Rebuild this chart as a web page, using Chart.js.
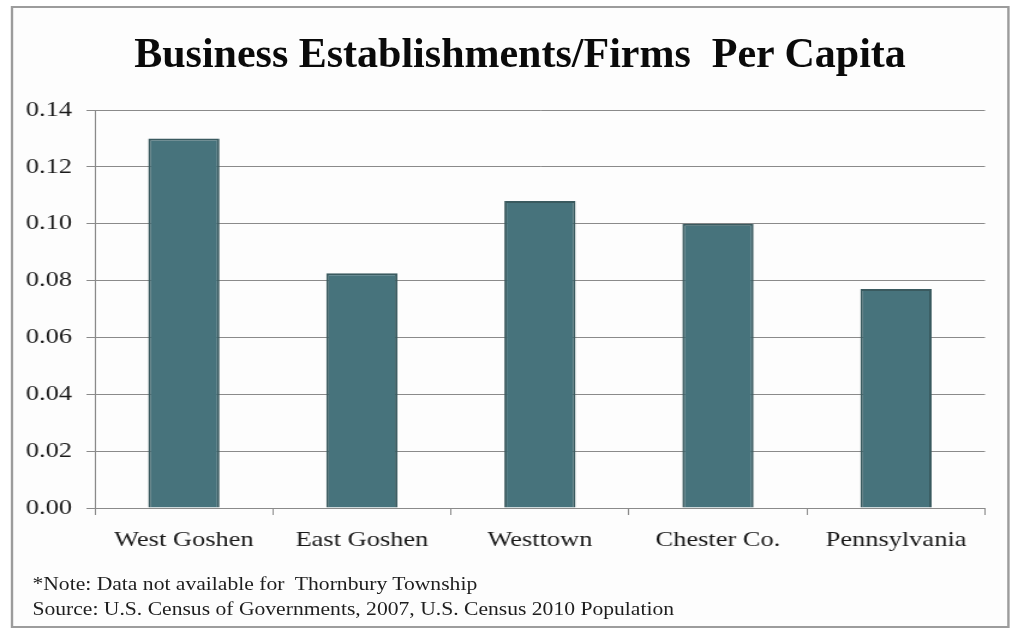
<!DOCTYPE html>
<html>
<head>
<meta charset="utf-8">
<script src="https://cdn.jsdelivr.net/npm/chart.js@4/dist/chart.umd.min.js"></script>
<style>
  html, body { margin: 0; padding: 0; background: #ffffff; }
  body { width: 1018px; height: 628px; position: relative; overflow: hidden; }
  /* the whole slide is drawn on a narrower stage and stretched sideways */
  #stage {
    position: absolute; left: 0; top: 0;
    width: 848px; height: 628px;
    transform: scaleX(1.2005); transform-origin: 0 0;
  }
  #frame {
    position: absolute; left: 9px; top: 6px; width: 828px; height: 618px;
    border: 2px solid #9c9c9c; background: #fdfdfd;
  }
  #chart { position: absolute; left: 0; top: 0; }
  #notes {
    position: absolute; left: 27px; top: 572px;
    font: 18px 'Liberation Serif', 'Times New Roman', serif;
    line-height: 25px; color: #1e1e1e; white-space: nowrap;
  }
  #title {
    position: absolute; left: 0; top: 32px; width: 1040px; text-align: center;
    font: bold 42px 'Liberation Serif', 'Times New Roman', serif;
    line-height: 42px; color: #0a0a0a; white-space: nowrap;
  }
</style>
</head>
<body>
<div id="stage">
  <div id="frame"></div>
  <canvas id="chart" width="848" height="628"></canvas>
  <div id="notes">*Note: Data not available for&nbsp; Thornbury Township<br>Source: U.S. Census of Governments, 2007, U.S. Census 2010 Population</div>
</div>
<div id="title">Business Establishments/Firms&nbsp; Per Capita</div>
<script>
// Firms per capita by area
const places = ['West Goshen', 'East Goshen', 'Westtown', 'Chester Co.', 'Pennsylvania'];
const firmsPerCapita = [0.130, 0.0826, 0.108, 0.100, 0.077];
const yTicks = [0, 0.02, 0.04, 0.06, 0.08, 0.10, 0.12, 0.14];

const serif = "'Liberation Serif', 'Times New Roman', serif";
const gridGray = '#8a8a8a';

const ctx = document.getElementById('chart').getContext('2d');
const chart = new Chart(ctx, {
    type: 'bar',
    data: {
        labels: places,
        datasets: [{
            label: 'Firms per capita',
            data: firmsPerCapita,
            backgroundColor: '#47737c',
            borderColor: '#3a5a5f',
            borderWidth: 2,
            barPercentage: 0.4,
            categoryPercentage: 1.0
        }]
    },
    options: {
        responsive: false,
        animation: false,
        devicePixelRatio: 1,
        layout: { padding: { top: 110, right: 27.5, bottom: 0, left: 0 } },
        plugins: {
            legend: { display: false },
            tooltip: { enabled: false }
        },
        scales: {
            x: {
                afterFit: function(scale) { scale.height = 120; },
                grid: {
                    offset: true,
                    drawOnChartArea: false,
                    drawTicks: true,
                    tickLength: 7,
                    color: gridGray
                },
                border: { display: true, color: gridGray, width: 1 },
                ticks: {
                    color: '#1a1a1a',
                    padding: 12,
                    font: { family: serif, size: 22 }
                }
            },
            y: {
                min: 0,
                max: 0.14,
                afterFit: function(scale) { scale.width = 79; },
                afterBuildTicks: function(scale) {
                    scale.ticks = yTicks.map(v => ({ value: v }));
                },
                grid: {
                    color: gridGray,
                    drawTicks: true,
                    tickLength: 7
                },
                border: { display: true, color: gridGray, width: 1 },
                ticks: {
                    color: '#1a1a1a',
                    padding: 12,
                    font: { family: serif, size: 22 },
                    callback: function(value) { return value.toFixed(2); }
                }
            }
        }
    }
});
</script>
</body>
</html>
